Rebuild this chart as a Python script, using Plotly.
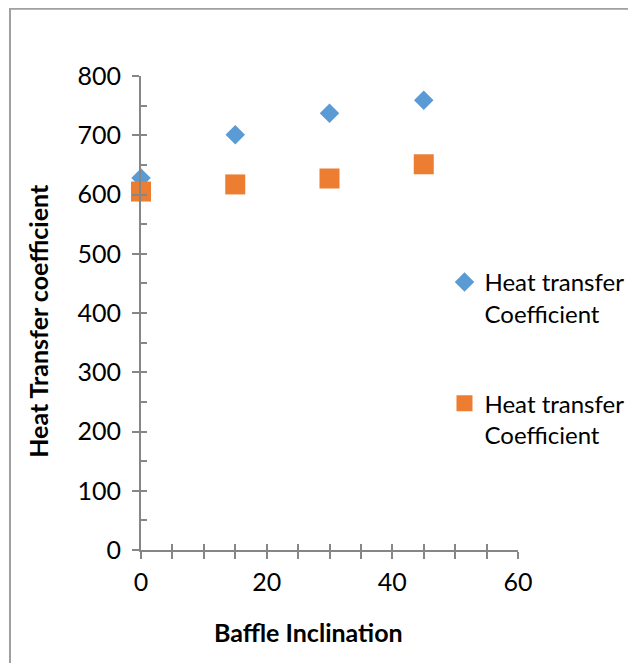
import plotly.graph_objects as go

# baffle inclination (deg) vs heat transfer coefficient
inclination = [0, 15, 30, 45]
htc_series1 = [628, 701, 737, 759]
htc_series2 = [605, 617, 627, 651]
series_name = "Heat transfer<br>Coefficient"

blue = "#5B9BD5"
orange = "#ED7D31"
axis_grey = "#868686"
font_family = "Lato, Calibri, Arial, sans-serif"

fig = go.Figure()
fig.add_trace(go.Scatter(
    x=inclination, y=htc_series1, mode="markers", name=series_name,
    marker=dict(symbol="diamond", size=15, color=blue), cliponaxis=False,
    legend="legend",
))
fig.add_trace(go.Scatter(
    x=inclination, y=htc_series2, mode="markers", name=series_name,
    marker=dict(symbol="square", size=20, color=orange), cliponaxis=False,
    legend="legend2",
))
# empty helper trace so the overlay axes (inner half of the crossing ticks) get drawn
fig.add_trace(go.Scatter(x=[], y=[], xaxis="x2", yaxis="y2", showlegend=False, hoverinfo="skip"))

# the page body adds an 8px offset, so margins are shifted to compensate
fig.update_layout(
    width=636, height=663,
    margin=dict(l=133, r=126, t=68, b=121),
    paper_bgcolor="white", plot_bgcolor="white",
    font=dict(family=font_family, size=25, color="black"),
    xaxis=dict(
        range=[0, 60], dtick=20, tick0=0, showgrid=False, zeroline=False,
        showline=True, linecolor=axis_grey, linewidth=2,
        ticks="outside", ticklen=7, tickwidth=1.5, tickcolor=axis_grey,
        minor=dict(dtick=5, ticks="outside", ticklen=7, tickwidth=1.5, tickcolor=axis_grey),
        tickfont=dict(size=25), ticklabelstandoff=2,
    ),
    yaxis=dict(
        range=[0, 800], dtick=100, tick0=0, showgrid=False, zeroline=False,
        showline=True, linecolor=axis_grey, linewidth=2,
        ticks="outside", ticklen=7, tickwidth=1.5, tickcolor=axis_grey,
        tickfont=dict(size=25), ticklabelstandoff=6,
    ),
    xaxis2=dict(
        range=[0, 60], overlaying="x", anchor="y2", dtick=5, showgrid=False,
        zeroline=False, showline=False, showticklabels=False,
        ticks="inside", ticklen=6, tickwidth=1.5, tickcolor=axis_grey,
    ),
    yaxis2=dict(
        range=[0, 800], overlaying="y", anchor="x2", dtick=50, showgrid=False,
        zeroline=False, showline=False, showticklabels=False,
        ticks="inside", ticklen=6, tickwidth=1.5, tickcolor=axis_grey,
    ),
    legend=dict(
        x=0.805, y=0.612, xanchor="left", yanchor="top", valign="top",
        font=dict(size=24), bgcolor="rgba(0,0,0,0)", itemwidth=30,
    ),
    legend2=dict(
        x=0.805, y=0.356, xanchor="left", yanchor="top", valign="top",
        font=dict(size=24), bgcolor="rgba(0,0,0,0)", itemwidth=30,
    ),
    showlegend=True,
)

fig.add_annotation(
    text="<b>Heat Transfer coefficient</b>", textangle=-90,
    xref="paper", yref="paper", x=-0.274, y=0.483,
    xanchor="center", yanchor="middle",
    showarrow=False, font=dict(size=25),
)
fig.add_annotation(
    text="<b>Baffle Inclination</b>",
    xref="paper", yref="paper", x=0.4456, y=-0.173,
    xanchor="center", yanchor="middle",
    showarrow=False, font=dict(size=25),
)

# outer chart frame (only its top and left edges fall inside the picture)
fig.add_shape(
    type="rect", xref="paper", yref="paper",
    x0=-0.3475, y0=-1.0, x1=2.0, y1=1.142,
    line=dict(color="#A0A0A0", width=2),
)

fig.write_html("out.html")
